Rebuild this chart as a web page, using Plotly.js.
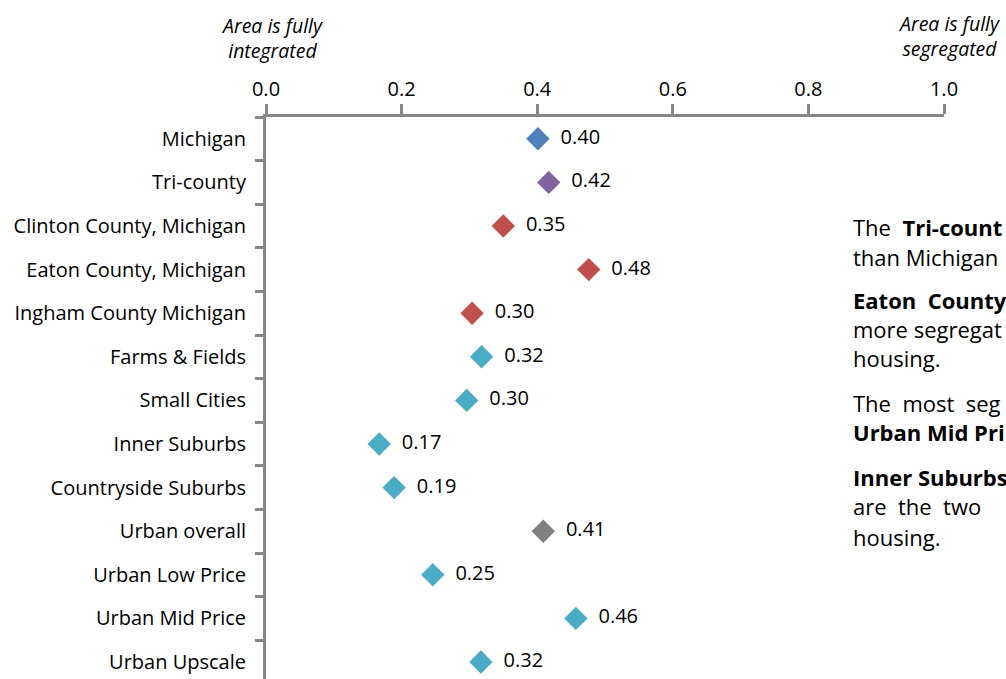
<!DOCTYPE html>
<html>
<head>
<meta charset="utf-8">
<script src="https://cdn.plot.ly/plotly-3.0.1.min.js"></script>
<style>html,body{margin:0;padding:0;background:#fff;}#chart{width:1006px;height:679px;}</style>
</head>
<body>
<div id="chart"></div>
<script>
const categories = ["Michigan","Tri-county","Clinton County, Michigan","Eaton County, Michigan","Ingham County Michigan","Farms & Fields","Small Cities","Inner Suburbs","Countryside Suburbs","Urban overall","Urban Low Price","Urban Mid Price","Urban Upscale"];
const values = [0.401,0.417,0.35,0.476,0.304,0.318,0.296,0.167,0.189,0.409,0.246,0.457,0.317];
const groups = ["state","tri","county","county","county","type","type","type","type","urban","type","type","type"];
const xTickVals = [0,0.2,0.4,0.6,0.8,1.0];
const xTickText = ["0.0","0.2","0.4","0.6","0.8","1.0"];

const groupColors = {state:"#4F81BD", tri:"#8064A2", county:"#C0504D", type:"#4BACC6", urban:"#808080"};
const font = "Open Sans, sans-serif";

const trace = {
  type: "scatter",
  mode: "markers+text",
  x: values,
  y: categories,
  text: values.map(v => "  " + v.toFixed(2)),
  textposition: "middle right",
  textfont: {family: font, size: 20, color: "#000"},
  marker: {symbol: "diamond", size: 18, color: groups.map(g => groupColors[g]), line: {width: 0}},
  hoverinfo: "x+y",
  cliponaxis: false
};

const ypx = p => (679 - p) / 562;
const xpx = p => (p - 266) / 678;
const para = [
  ["The  <b>Tri-count</b>", 227],
  ["than Michigan", 257],
  ["<b>Eaton  County</b>", 300],
  ["more segregat", 329],
  ["housing.", 358],
  ["The  most  seg", 403],
  ["<b>Urban Mid Pri</b>", 432],
  ["<b>Inner Suburbs</b>", 477],
  ["are  the  two", 506],
  ["housing.", 537]
];
const titles = [
  ["<i>Area is fully<br>integrated</i>", 272, 38],
  ["<i>Area is fully<br>segregated</i>", 949, 36]
];

const annotations = titles.map(([t, x, y]) => ({text: t, xref: "paper", yref: "paper", x: xpx(x), y: ypx(y), xanchor: "center", yanchor: "middle", showarrow: false, font: {family: font, size: 19.5, color: "#000"}}))
.concat(para.map(([t, y]) => ({text: t, xref: "paper", yref: "paper", x: xpx(851), y: ypx(y), xanchor: "left", yanchor: "middle", showarrow: false, align: "left", font: {family: font, size: 22, color: "#000"}})));

const layout = {
  width: 1006, height: 679,
  margin: {l: 266, r: 62, t: 117, b: 0, pad: 0},
  paper_bgcolor: "#fff", plot_bgcolor: "#fff",
  showlegend: false,
  font: {family: font, color: "#000"},
  xaxis: {
    side: "top", range: [0, 1], tickvals: xTickVals, ticktext: xTickText,
    ticks: "outside", ticklen: 10, tickwidth: 3, tickcolor: "#878787",
    showline: true, linewidth: 3, linecolor: "#878787",
    showgrid: false, zeroline: false,
    tickfont: {family: font, size: 20, color: "#000"}
  },
  yaxis: {
    type: "category", categoryorder: "array", categoryarray: categories,
    range: [12.39, -0.5], autorange: false,
    tickson: "boundaries", ticks: "outside", ticklen: 8, tickwidth: 3, tickcolor: "#878787",
    showline: true, linewidth: 3, linecolor: "#878787",
    showgrid: false, zeroline: false,
    tickfont: {family: font, size: 20, color: "#000"},
    ticklabelstandoff: 13
  },
  annotations: annotations
};

Plotly.newPlot("chart", [trace], layout, {displayModeBar: false, staticPlot: true});
</script>
</body>
</html>
